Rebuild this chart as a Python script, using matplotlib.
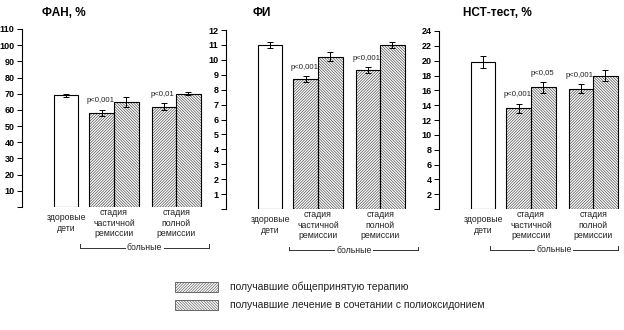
import matplotlib
matplotlib.use("Agg")
import matplotlib.pyplot as plt
from matplotlib.patches import Rectangle
from matplotlib.lines import Line2D

plt.rcParams['font.family'] = ['Liberation Sans', 'DejaVu Sans']
plt.rcParams['hatch.linewidth'] = 0.45

groups = ["здоровые\nдети", "стадия\nчастичной\nремиссии", "стадия\nполной\nремиссии"]
series_names = ["получавшие общепринятую терапию",
                "получавшие лечение в сочетании с полиоксидонием"]

# ФАН, %
fan_healthy, fan_healthy_err = 69, 1.0
fan_std = [58, 62]
fan_std_err = [2.0, 2.0]
fan_pox = [65, 70]
fan_pox_err = [3.0, 1.0]
fan_p_std = ["p<0,001", "p<0,01"]
fan_p_pox = ["", ""]

# ФИ
fi_healthy, fi_healthy_err = 11.0, 0.2
fi_std = [8.7, 9.3]
fi_std_err = [0.2, 0.2]
fi_pox = [10.2, 11.0]
fi_pox_err = [0.3, 0.2]
fi_p_std = ["p<0,001", "p<0,001"]
fi_p_pox = ["", ""]

# НСТ-тест, %
nst_healthy, nst_healthy_err = 19.8, 0.8
nst_std = [13.6, 16.2]
nst_std_err = [0.6, 0.6]
nst_pox = [16.4, 18.0]
nst_pox_err = [0.7, 0.7]
nst_p_std = ["p<0,001", "p<0,001"]
nst_p_pox = ["p<0,05", ""]

panels = [
    dict(title="ФАН, %", healthy=fan_healthy, healthy_err=fan_healthy_err,
         std=fan_std, std_err=fan_std_err, pox=fan_pox, pox_err=fan_pox_err,
         p_std=fan_p_std, p_pox=fan_p_pox, ymax=110, step=10,
         rect=(22, 207, 178), title_x=42, bracket=(2.37, 7.63)),
    dict(title="ФИ", healthy=fi_healthy, healthy_err=fi_healthy_err,
         std=fi_std, std_err=fi_std_err, pox=fi_pox, pox_err=fi_pox_err,
         p_std=fi_p_std, p_pox=fi_p_pox, ymax=12, step=1,
         rect=(226, 209, 179), title_x=253, bracket=(2.57, 7.84)),
    dict(title="НСТ-тест, %", healthy=nst_healthy, healthy_err=nst_healthy_err,
         std=nst_std, std_err=nst_std_err, pox=nst_pox, pox_err=nst_pox_err,
         p_std=nst_p_std, p_pox=nst_p_pox, ymax=24, step=2,
         rect=(439, 209, 178), title_x=463, bracket=(2.08, 7.30)),
]

W, H = 624, 330
fig = plt.figure(figsize=(W / 100, H / 100), dpi=100)

xpos = [1.8, 3.75, 6.28]
bw = 1.0
hatch_std = "/" * 12
hatch_pox = "\\" * 12
err_kw = dict(ecolor="black", elinewidth=0.7, capsize=2.5, capthick=0.7)

for p in panels:
    left, base, height = p["rect"]
    ax = fig.add_axes([left / W, 1 - base / H, 184 / W, height / H])

    ax.bar(xpos[0], p["healthy"], bw, yerr=p["healthy_err"], color="white",
           edgecolor="black", linewidth=0.8, error_kw=err_kw)
    gx = xpos[1:]
    x1 = [x - bw / 2 for x in gx]
    x2 = [x + bw / 2 for x in gx]
    # hatch drawn in grey first, black outline on top
    ax.bar(x1, p["std"], bw, color="white", edgecolor="#404040",
           hatch=hatch_std, linewidth=0)
    ax.bar(x2, p["pox"], bw, color="white", edgecolor="#404040",
           hatch=hatch_pox, linewidth=0)
    ax.bar(x1, p["std"], bw, yerr=p["std_err"], fill=False, edgecolor="black",
           linewidth=0.8, error_kw=err_kw)
    ax.bar(x2, p["pox"], bw, yerr=p["pox_err"], fill=False, edgecolor="black",
           linewidth=0.8, error_kw=err_kw)

    # significance marks above bars
    for xs, vals, errs, labels in [(x1, p["std"], p["std_err"], p["p_std"]),
                                   (x2, p["pox"], p["pox_err"], p["p_pox"])]:
        for x, v, e, lab in zip(xs, vals, errs, labels):
            if lab:
                ax.annotate(lab, (x, v + e), xytext=(-1, 4), textcoords="offset points",
                            ha="center", va="bottom", fontsize=5.6, color="#222222")

    ax.set_xlim(0, 7.5)
    ax.set_ylim(0, p["ymax"])
    ticks = list(range(0, p["ymax"] + 1, p["step"]))
    ax.set_yticks(ticks)
    ax.set_yticklabels([""] + [str(t) for t in ticks[1:]], fontsize=6.5, fontweight="bold")
    ax.tick_params(axis="y", length=3.5, width=0.7, pad=2)
    ax.set_xticks([])
    for s in ["top", "right", "bottom"]:
        ax.spines[s].set_visible(False)
    ax.spines["left"].set_linewidth(0.8)

    tr = ax.get_xaxis_transform()
    for x, g in zip(xpos, groups):
        ax.text(x, -0.09, g, transform=tr, ha="center", va="center",
                fontsize=6.3, linespacing=1.25, color="#222222")

    # bracket for the patient groups
    b0, b1 = p["bracket"]
    yb = -0.23
    for line in [Line2D([b0, b1], [yb, yb]), Line2D([b0, b0], [yb, yb + 0.02]),
                 Line2D([b1, b1], [yb, yb + 0.02])]:
        line.set_transform(tr)
        line.set_color("#333333")
        line.set_linewidth(0.7)
        line.set_clip_on(False)
        ax.add_line(line)
    ax.text((b0 + b1) / 2, yb, "больные", transform=tr, ha="center", va="center",
            fontsize=6.3, color="#222222",
            bbox=dict(facecolor="white", edgecolor="none", pad=1))

    fig.text(p["title_x"] / W, 1 - 13 / H, p["title"], ha="left", va="center",
             fontsize=8.5, fontweight="bold")

# legend
for i, (name, hatch) in enumerate(zip(series_names, [hatch_std, hatch_pox])):
    yc = 287 + i * 18
    fig.add_artist(Rectangle((175 / W, 1 - (yc + 5) / H), 43 / W, 10 / H,
                             transform=fig.transFigure, facecolor="white",
                             edgecolor="#555555", hatch=hatch, linewidth=0.6))
    fig.text(230 / W, 1 - yc / H, name, ha="left", va="center", fontsize=7.5,
             color="#222222")

fig.savefig("out.png", dpi=100)
